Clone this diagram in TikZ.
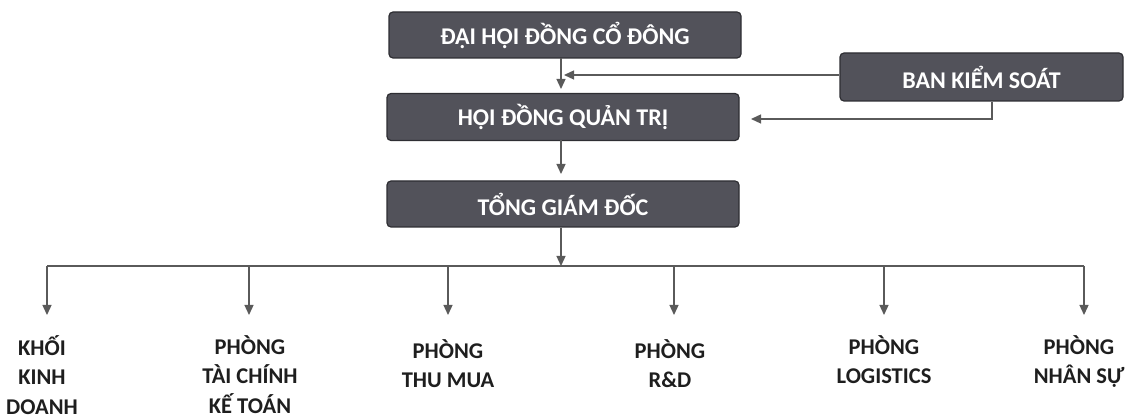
\documentclass[tikz,border=0pt]{standalone}
\usepackage{fontspec}
\setmainfont{Carlito}
\usetikzlibrary{arrows.meta}
\definecolor{boxgray}{HTML}{52525A}
\definecolor{boxedge}{HTML}{2E2E33}
\definecolor{linegray}{HTML}{5A5A5A}
\definecolor{txtdark}{HTML}{1E1E1E}
\begin{document}
\begin{tikzpicture}[x=1pt,y=-1pt,
  topbox/.style={draw=boxedge, fill=boxgray, rounded corners=4pt, line width=1.2pt,
    minimum height=46pt, text=white, inner sep=0pt,
    font=\bfseries\fontsize{24}{28}\selectfont},
  conn/.style={draw=linegray, line width=1.3pt, -{Triangle[width=9pt,length=10pt]}},
  busline/.style={draw=linegray, line width=1.3pt},
  lbl/.style={align=center, anchor=north, text=txtdark, inner sep=0pt,
    font=\bfseries\fontsize{22.5}{29.5}\selectfont}]
\useasboundingbox (0,0) rectangle (1127,419);

\node[topbox, minimum width=352pt] (dh) at (565,35) {ĐẠI HỘI ĐỒNG CỔ ĐÔNG};
\node[topbox, minimum width=352pt, minimum height=47pt] (hd) at (563,117) {HỘI ĐỒNG QUẢN TRỊ};
\node[topbox, minimum width=352pt] (tg) at (563,204) {TỔNG GIÁM ĐỐC};
\node[topbox, minimum width=283pt, minimum height=48pt] (bks) at (981.5,77) {BAN KIỂM SOÁT};

\coordinate (v1) at (561,58);
\coordinate (v2) at (561,89);
\draw[conn] (v1) -- (v2);
\draw[conn] (bks.west |- 0,75) -- (564,75);
\draw[conn] ([xshift=10.5pt]bks.south) |- (751,119);
\coordinate (v3) at (561,140);
\coordinate (v4) at (561,174);
\draw[conn] (v3) -- (v4);

\coordinate (bus) at (561,266);
\draw[conn] (tg.south -| bus) -- (bus);

\coordinate (b1) at (47,266);
\coordinate (b2) at (249,266);
\coordinate (b3) at (448,266);
\coordinate (b4) at (674,266);
\coordinate (b5) at (884,266);
\coordinate (b6) at (1084,266);
\draw[busline] (b1) -- (b6);

\node[lbl] (k1) at (42,335) {KHỐI\\KINH\\DOANH};
\node[lbl] (k2) at (250,335) {PHÒNG\\TÀI CHÍNH\\KẾ TOÁN};
\node[lbl] (k3) at (448,339) {PHÒNG\\THU MUA};
\node[lbl] (k4) at (670,339) {PHÒNG\\R\&D};
\node[lbl] (k5) at (884,335) {PHÒNG\\LOGISTICS};
\node[lbl] (k6) at (1079,335) {PHÒNG\\NHÂN SỰ};

\foreach \i in {1,...,6}{
  \draw[conn] (b\i) -- ++(0,49);
}
\end{tikzpicture}
\end{document}
